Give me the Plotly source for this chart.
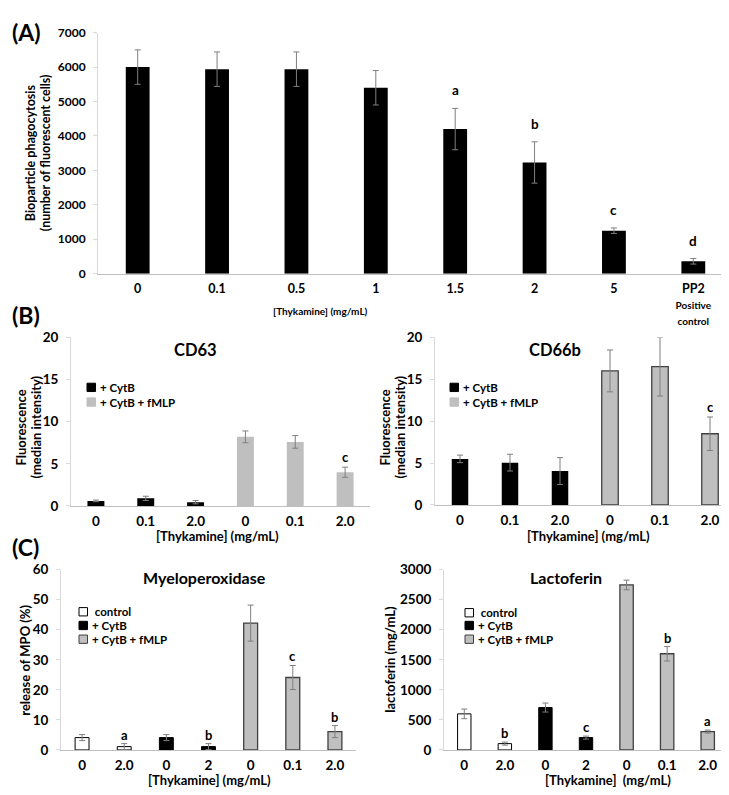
import plotly.graph_objects as go

W, H = 729, 795
FONT = "Lato"

# ---------------- data ----------------
A_labels = ["0", "0.1", "0.5", "1", "1.5", "2", "5",
            "PP2<br><span style='font-size:10px'>Positive</span><br><span style='font-size:10px'>control</span>"]
A_vals = [6000, 5940, 5940, 5400, 4200, 3230, 1250, 360]
A_err = [500, 500, 500, 500, 600, 600, 80, 80]
A_letters = ["", "", "", "", "a", "b", "c", "d"]

B_labels = ["0", "0.1", "2.0", "0", "0.1", "2.0"]
CD63_cytb = [0.6, 0.9, 0.45]
CD63_cytb_err = [0.1, 0.25, 0.2]
CD63_fmlp = [8.2, 7.6, 4.0]
CD63_fmlp_err = [0.7, 0.75, 0.6]
CD63_fmlp_letters = ["", "", "c"]

CD66b_cytb = [5.5, 5.05, 4.05]
CD66b_cytb_err = [0.45, 1.0, 1.6]
CD66b_fmlp = [16.0, 16.5, 8.5]
CD66b_fmlp_err = [2.5, 3.5, 2.0]
CD66b_fmlp_letters = ["", "", "c"]

MPO_labels = ["0", "2.0", "0", "2", "0", "0.1", "2.0"]
MPO_ctrl = [4.1, 1.1]
MPO_ctrl_err = [1.0, 1.0]
MPO_ctrl_letters = ["", "a"]
MPO_cytb = [4.1, 1.1]
MPO_cytb_err = [1.0, 1.0]
MPO_cytb_letters = ["", "b"]
MPO_fmlp = [42.2, 24.1, 6.1]
MPO_fmlp_err = [6.0, 4.0, 2.0]
MPO_fmlp_letters = ["", "c", "b"]

LF_labels = ["0", "2.0", "0", "2", "0", "0.1", "2.0"]
LF_ctrl = [600, 105]
LF_ctrl_err = [80, 25]
LF_ctrl_letters = ["", "b"]
LF_cytb = [705, 205]
LF_cytb_err = [75, 25]
LF_cytb_letters = ["", "c"]
LF_fmlp = [2745, 1600, 305]
LF_fmlp_err = [80, 120, 25]
LF_fmlp_letters = ["", "b", "a"]

# ---------------- helpers ----------------
def px(x):
    return x / W

def py(y):
    return 1 - y / H

fig = go.Figure()
annotations = []
shapes = []

ERR = dict(type="data", color="#7f7f7f", thickness=1, width=3)

def add_group(ax, xs, ys, errs, fill, line_color, line_width, width, letters=None, lshift=9, lsize=13):
    fig.add_trace(go.Bar(
        x=xs, y=ys, width=width,
        error_y=dict(ERR, array=errs),
        marker=dict(color=fill, line=dict(color=line_color, width=line_width)),
        xaxis="x" + ax, yaxis="y" + ax, showlegend=False, hoverinfo="skip",
    ))
    if letters:
        for x, y, e, t in zip(xs, ys, errs, letters):
            if t:
                annotations.append(dict(
                    x=x, y=y + e, xref="x" + ax, yref="y" + ax, text=t,
                    showarrow=False, yanchor="middle", yshift=lshift,
                    font=dict(family=FONT, size=lsize, color="black", weight="bold")))

def text(x, y, t, size, angle=0, xanchor="center", yanchor="middle"):
    annotations.append(dict(x=px(x), y=py(y), xref="paper", yref="paper", text=t,
                            showarrow=False, textangle=angle, xanchor=xanchor, yanchor=yanchor,
                            font=dict(family=FONT, size=size, color="black", weight="bold")))

def legend_box(x, y, fill, line_color, label, size=11.5):
    s = 8.5
    shapes.append(dict(type="rect", xref="paper", yref="paper",
                       x0=px(x), x1=px(x + s), y0=py(y + s / 2), y1=py(y - s / 2),
                       fillcolor=fill, line=dict(color=line_color, width=1)))
    text(x + s + 2.5, y, label, size, xanchor="left")

# ---------------- Panel A ----------------
add_group("", list(range(len(A_vals))), A_vals, A_err, "black", "black", 0, 0.3,
          A_letters, lshift=18, lsize=13.5)

# ---------------- Panel B ----------------
add_group("2", [0, 1, 2], CD63_cytb, CD63_cytb_err, "black", "black", 0, 0.34)
add_group("2", [3, 4, 5], CD63_fmlp, CD63_fmlp_err, "#bfbfbf", "#bfbfbf", 0, 0.34, CD63_fmlp_letters, lshift=10)
add_group("3", [0, 1, 2], CD66b_cytb, CD66b_cytb_err, "black", "black", 0, 0.33)
add_group("3", [3, 4, 5], CD66b_fmlp, CD66b_fmlp_err, "#bfbfbf", "#404040", 1.3, 0.33, CD66b_fmlp_letters, lshift=10)

# ---------------- Panel C ----------------
add_group("4", [0, 1], MPO_ctrl, MPO_ctrl_err, "white", "black", 1, 0.33, MPO_ctrl_letters)
add_group("4", [2, 3], MPO_cytb, MPO_cytb_err, "black", "black", 1, 0.33, MPO_cytb_letters)
add_group("4", [4, 5, 6], MPO_fmlp, MPO_fmlp_err, "#bfbfbf", "#404040", 1.3, 0.33, MPO_fmlp_letters)
add_group("5", [0, 1], LF_ctrl, LF_ctrl_err, "white", "black", 1, 0.33, LF_ctrl_letters)
add_group("5", [2, 3], LF_cytb, LF_cytb_err, "black", "black", 1, 0.33, LF_cytb_letters)
add_group("5", [4, 5, 6], LF_fmlp, LF_fmlp_err, "#bfbfbf", "#404040", 1.3, 0.33, LF_fmlp_letters)

# ---------------- axes ----------------
def xax(x0, x1, labels, anchor, size, standoff=3):
    return dict(domain=[px(x0), px(x1)], anchor=anchor, range=[-0.5, len(labels) - 0.5],
                tickmode="array", tickvals=list(range(len(labels))), ticktext=labels,
                showline=True, linecolor="#bfbfbf", linewidth=1, ticks="", showgrid=False,
                zeroline=False, fixedrange=True, ticklabelstandoff=standoff,
                tickfont=dict(family=FONT, size=size, color="black", weight="bold"))

def yax(y0, y1, anchor, top, dtick, size):
    return dict(domain=[py(y1), py(y0)], anchor=anchor, range=[0, top], dtick=dtick,
                showline=True, linecolor="#d9d9d9", linewidth=1, ticks="outside", ticklen=4,
                tickcolor="#d9d9d9", showgrid=False, zeroline=False, fixedrange=True,
                ticklabelstandoff=5,
                tickfont=dict(family=FONT, size=size, color="black", weight="bold"))

layout = dict(
    width=W, height=H, margin=dict(l=0, r=0, t=0, b=0),
    paper_bgcolor="white", plot_bgcolor="white", barmode="overlay",
    font=dict(family=FONT, color="black", weight="bold"),
    xaxis=xax(90, 725, A_labels, "y", 12.5),
    yaxis=yax(17, 263, "x", 7000, 1000, 12),
    xaxis2=xax(63, 362, B_labels, "y2", 13.5),
    yaxis2=yax(328, 500, "x2", 20, 5, 13.5),
    xaxis3=xax(427, 727, B_labels, "y3", 13.5),
    yaxis3=yax(328, 499, "x3", 20, 5, 13.5),
    xaxis4=xax(53, 348, MPO_labels, "y4", 13.5),
    yaxis4=yax(565, 749, "x4", 60, 10, 13.5),
    xaxis5=xax(436, 720, LF_labels, "y5", 13.5),
    yaxis5=yax(565, 749, "x5", 3000, 500, 13.5),
)

# ---------------- texts ----------------
text(2, 16, "(A)", 23, xanchor="left")
text(2, 305, "(B)", 23, xanchor="left")
text(2, 542, "(C)", 23, xanchor="left")

text(22, 140, "Bioparticle phagocytosis", 12.5, angle=-90)
text(37, 140, "(number of fluorescent cells)", 12.5, angle=-90)
text(312, 301, "[Thykamine] (mg/mL)", 10)

text(187, 341, "CD63", 16.5)
text(547, 341, "CD66b", 16.5)
text(13, 420, "Fluorescence", 13, angle=-90)
text(28, 420, "(median intensity)", 13, angle=-90)
text(377, 420, "Fluorescence", 13, angle=-90)
text(392, 420, "(median intensity)", 13, angle=-90)
text(209, 531, "[Thykamine] (mg/mL)", 13)
text(580, 531, "[Thykamine] (mg/mL)", 13)

text(197, 573, "Myeloperoxidase", 16)
text(558, 573, "Lactoferin", 16)
text(17, 658, "release of MPO (%)", 13, angle=-90)
text(382, 657, "lactoferin (mg/mL)", 13, angle=-90)
text(202, 780, "[Thykamine] (mg/mL)", 13)
text(600, 780, "[Thykamine]\u00a0 (mg/mL)", 13)

# ---------------- legends ----------------
legend_box(79, 379, "black", "black", "+ CytB")
legend_box(79, 394, "#bfbfbf", "#bfbfbf", "+ CytB + fMLP")
legend_box(442, 379, "black", "black", "+ CytB")
legend_box(442, 394, "#bfbfbf", "#bfbfbf", "+ CytB + fMLP")

legend_box(71, 608, "white", "black", "\u00a0control")
legend_box(71, 622, "black", "black", "+ CytB")
legend_box(71, 636, "#bfbfbf", "#404040", "+ CytB + fMLP")
legend_box(457, 609, "white", "black", "\u00a0control")
legend_box(457, 622, "black", "black", "+ CytB")
legend_box(457, 636, "#bfbfbf", "#404040", "+ CytB + fMLP")

layout["annotations"] = annotations
layout["shapes"] = shapes
fig.update_layout(**layout)
fig.write_html("out.html")
